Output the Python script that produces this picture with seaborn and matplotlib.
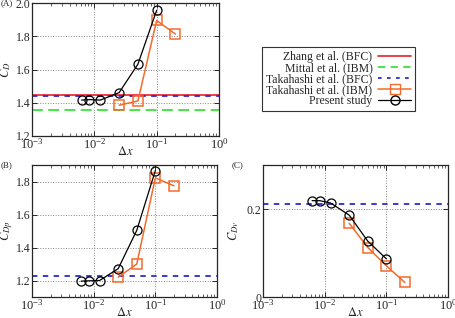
import numpy as np
import pandas as pd
import matplotlib
matplotlib.use("Agg")
import matplotlib.pyplot as plt
import seaborn as sns
from matplotlib.lines import Line2D
from matplotlib.ticker import LogLocator, NullFormatter

# grid spacings
dx_present = [0.00625, 0.0083, 0.0125, 0.025, 0.05, 0.1]
dx_taka = [0.025, 0.05, 0.1, 0.2]

# (A) drag coefficient
cd_present = [1.416, 1.419, 1.416, 1.461, 1.632, 1.956]
cd_taka = [1.385, 1.411, 1.895, 1.813]
cd_zhang_bfc = 1.446
cd_mittal_ibm = 1.356
cd_taka_bfc = 1.440

# (B) pressure drag
cdp_present = [1.196, 1.198, 1.200, 1.272, 1.504, 1.866]
cdp_taka = [1.220, 1.300, 1.822, 1.774]
cdp_taka_bfc = 1.230

# (C) viscous drag
cdv_present = [0.219, 0.219, 0.2136, 0.186, 0.127, 0.0868]
cdv_taka = [0.1675, 0.1125, 0.071, 0.033]
cdv_taka_bfc = 0.211

sns.set_style("ticks")
plt.rcParams["font.family"] = ["Liberation Serif", "DejaVu Serif"]
plt.rcParams["mathtext.fontset"] = "stix"

RED = "#e8323c"
GREEN = "#3ee03e"
BLUE = "#2a2ad0"
ORANGE = "#f26b2e"

W, H = 455, 318
fig = plt.figure(figsize=(W / 100, H / 100), dpi=100)


def box(x0, x1, y0, y1):
    return [x0 / W, 1 - y1 / H, (x1 - x0) / W, (y1 - y0) / H]


axA = fig.add_axes(box(32, 219, 3, 136))
axB = fig.add_axes(box(32, 217, 165, 297))
axC = fig.add_axes(box(263, 448, 165, 297))


def draw(ax, yp, yt):
    sns.lineplot(x=dx_taka, y=yt, ax=ax, color=ORANGE, lw=1.1, marker="s",
                 markersize=6.5, markerfacecolor="none", markeredgecolor=ORANGE,
                 markeredgewidth=1.1, zorder=4)
    sns.lineplot(x=dx_present, y=yp, ax=ax, color="k", lw=0.9, marker="o",
                 markersize=6.5, markerfacecolor="none", markeredgecolor="k",
                 markeredgewidth=0.9, zorder=5)


def style(ax, ylim, yticks, ylabel, tag, ylab_x):
    ax.set_xscale("log")
    ax.set_xlim(1e-3, 1)
    ax.set_ylim(*ylim)
    ax.set_yticks(yticks)
    ax.set_xticks([1e-3, 1e-2, 1e-1, 1])
    ax.xaxis.set_minor_locator(LogLocator(base=10, subs=np.arange(2, 10)))
    ax.xaxis.set_minor_formatter(NullFormatter())
    ax.grid(True, which="major", ls=":", color="#888888", lw=0.7)
    ax.tick_params(which="both", direction="in", top=True, right=True,
                   labelsize=8.5, pad=1)
    ax.tick_params(axis="x", which="major", labelsize=9, pad=0.5)
    ax.tick_params(which="major", length=3.5, width=0.7)
    ax.tick_params(which="minor", length=2, width=0.5)
    for s in ax.spines.values():
        s.set_linewidth(0.9)
    ax.set_xlabel(r"$\Delta x$", fontsize=9, va="top")
    ax.xaxis.set_label_coords(0.5, -0.07)
    ax.set_ylabel(ylabel, fontsize=9)
    ax.yaxis.set_label_coords(ylab_x, 0.5)
    ax.text(-0.17, 1.0, tag, transform=ax.transAxes, fontsize=6.5, va="center")


draw(axA, cd_present, cd_taka)
axA.axhline(cd_zhang_bfc, color=RED, lw=1.3)
axA.axhline(cd_mittal_ibm, color=GREEN, lw=1.3, dashes=(6, 3))
axA.axhline(cd_taka_bfc, color=BLUE, lw=1.3, dashes=(3, 3))
style(axA, (1.2, 2.0), [1.2, 1.4, 1.6, 1.8, 2.0], r"$C_D$", "(A)", -0.1)

draw(axB, cdp_present, cdp_taka)
axB.axhline(cdp_taka_bfc, color=BLUE, lw=1.3, dashes=(3, 3))
style(axB, (1.1, 1.9), [1.2, 1.4, 1.6, 1.8], r"$C_{Dp}$", "(B)", -0.09)

draw(axC, cdv_present, cdv_taka)
axC.axhline(cdv_taka_bfc, color=BLUE, lw=1.3, dashes=(3, 3))
style(axC, (0.0, 0.3), [0.0, 0.2], r"$C_{Dv}$", "(C)", -0.12)
axC.set_yticklabels(["0", "0.2"])

handles = [
    Line2D([], [], color=RED, lw=1.3),
    Line2D([], [], color=GREEN, lw=1.3, dashes=(4, 3)),
    Line2D([], [], color=BLUE, lw=1.3, dashes=(2, 3)),
    Line2D([], [], color=ORANGE, lw=1.1, marker="s", markersize=6.5,
           markerfacecolor="none", markeredgecolor=ORANGE),
    Line2D([], [], color="k", lw=0.9, marker="o", markersize=6.5,
           markerfacecolor="none", markeredgecolor="k"),
]
labels = ["Zhang et al. (BFC)", "Mittal et al. (IBM)", "Takahashi et al. (BFC)",
          "Takahashi et al. (IBM)", "Present study"]
leg = fig.legend(handles, labels, loc="upper left",
                 bbox_to_anchor=(262 / W, 1 - 47 / H),
                 markerfirst=False, fontsize=8.5, frameon=True, fancybox=False,
                 edgecolor="#333333", framealpha=1, handlelength=2.8,
                 labelspacing=-0.08, borderpad=0.35, handletextpad=0.5,
                 borderaxespad=0)
leg.get_frame().set_linewidth(0.8)
leg._legend_box.align = "right"
for t in leg.get_texts():
    t.set_ha("right")

fig.savefig("out.png", dpi=100)
